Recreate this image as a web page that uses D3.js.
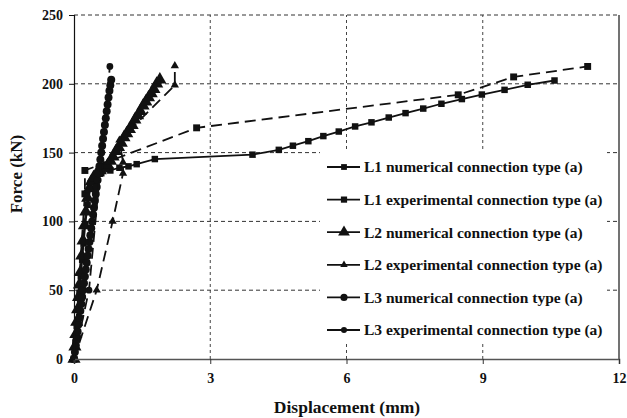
<!DOCTYPE html>
<html><head><meta charset="utf-8">
<script src="https://cdn.jsdelivr.net/npm/d3@7"></script>
<style>
body{margin:0;background:#fff;}
svg{display:block;}
text{font-family:"Liberation Serif","Times New Roman",serif;font-weight:bold;fill:#111;}
</style></head>
<body><svg id="c" width="627" height="418"></svg>
<script>
// ---- data ----
const xTicks = [0, 3, 6, 9, 12];
const yTicks = [0, 50, 100, 150, 200, 250];

const l1NumX = [0,0.03,0.06,0.09,0.12,0.15,0.18,0.21,0.25,0.3,0.36,0.45,0.6,0.8,1.0,1.2,1.38,1.78,3.93,4.51,4.82,5.16,5.49,5.83,6.19,6.55,6.93,7.30,7.69,8.09,8.54,8.98,9.48,9.99,10.58];
const l1NumY = [0,12,24,36,48,60,72,84,98,112,124,131,135,137,139,140,141.6,145.3,148.5,152,155,158.3,162,165.3,169,172,175.5,178.7,182,185.5,188.9,192.2,195.6,199.3,202.4];

const l1ExpX = [0,0.24,0.24,2.7,8.46,9.68,11.31];
const l1ExpY = [0,120,137,168,192,205,212.6];

const l2NumX = [0,0.02,0.04,0.06,0.08,0.1,0.12,0.14,0.17,0.2,0.23,0.26,0.3,0.34,0.38,0.43,0.5,0.58,0.66,0.74,0.8,0.86,0.92,0.98,1.04,1.1,1.16,1.22,1.28,1.34,1.4,1.46,1.52,1.58,1.64,1.7,1.76,1.82,1.89];
const l2NumY = [0,9,18,27,36,45,54,63,75,86,97,107,117,124,129,132,135,137,139,141,144,147,151,154,157,161,164,167,170,174,177,180,184,187,190,193,196,200,203];

const l2ExpX = [0,0.5,0.85,1.08,1.08,1.0,2.22,2.22];
const l2ExpY = [0,50,100,135,143,159,199,213];

const l3NumX = [0,0.02,0.04,0.06,0.08,0.1,0.12,0.14,0.16,0.18,0.2,0.22,0.24,0.26,0.28,0.3,0.32,0.34,0.36,0.38,0.4,0.42,0.44,0.46,0.48,0.5,0.52,0.54,0.56,0.58,0.6,0.62,0.64,0.66,0.68,0.7,0.72,0.74,0.76,0.78,0.8,0.82];
const l3NumY = [0,5,10,15,20,25,30,35,40,45,50,55,60,65,70,75,80,85,90,95,100,105,110,115,120,125,130,135,140,145,150,155,160,165,170,175,180,185,190,195,199,203];

const l3ExpX = [0,0.33,0.79];
const l3ExpY = [0,50,212.6];

const seriesNames = ["L1 numerical connection type (a)","L1 experimental connection type (a)","L2 numerical connection type (a)","L2 experimental connection type (a)","L3 numerical connection type (a)","L3 experimental connection type (a)"];

// ---- chart ----
const svg = d3.select("#c");
const x = d3.scaleLinear().domain([0,12]).range([74,619]);
const y = d3.scaleLinear().domain([0,250]).range([359,15]);

// grid
svg.append("g").selectAll("line").data(yTicks.filter(d=>d>0)).join("line")
  .attr("x1",x(0)).attr("x2",x(12)).attr("y1",d=>y(d)).attr("y2",d=>y(d))
  .attr("stroke","#333").attr("stroke-width",1).attr("stroke-dasharray","4,3");
svg.append("g").selectAll("line").data(xTicks.filter(d=>d>0&&d<12)).join("line")
  .attr("x1",d=>x(d)).attr("x2",d=>x(d)).attr("y1",y(0)).attr("y2",y(250))
  .attr("stroke","#444").attr("stroke-width",1).attr("stroke-dasharray","3,3");
// right border
svg.append("line").attr("x1",x(12)).attr("x2",x(12)).attr("y1",y(0)).attr("y2",y(250))
  .attr("stroke","#444").attr("stroke-width",1.5);

const shape = {square:d3.symbolSquare, triangle:d3.symbolTriangle, circle:d3.symbolCircle};
const series = [
  {xs:l1NumX, ys:l1NumY, dash:null, sym:"square", size:42},
  {xs:l1ExpX, ys:l1ExpY, dash:"11,6", sym:"square", size:48},
  {xs:l2NumX, ys:l2NumY, dash:null, sym:"triangle", size:75},
  {xs:l2ExpX, ys:l2ExpY, dash:"11,6", sym:"triangle", size:30},
  {xs:l3NumX, ys:l3NumY, dash:null, sym:"circle", size:50},
  {xs:l3ExpX, ys:l3ExpY, dash:"11,6", sym:"circle", size:36}
];
const line = d3.line().x(d=>x(d[0])).y(d=>y(d[1]));
series.forEach(s=>{
  const pts = s.xs.map((v,i)=>[v,s.ys[i]]);
  const g = svg.append("g");
  g.append("path").datum(pts).attr("d",line).attr("fill","none")
    .attr("stroke","#111").attr("stroke-width",1.8)
    .attr("stroke-dasharray",s.dash);
  g.selectAll("path.m").data(pts).join("path").attr("class","m")
    .attr("transform",d=>`translate(${x(d[0])},${y(d[1])})`)
    .attr("d",d3.symbol().type(shape[s.sym]).size(s.size))
    .attr("fill","#111");
});

// axes
const ax = svg.append("g").attr("transform",`translate(0,${y(0)})`)
  .call(d3.axisBottom(x).tickValues(xTicks).tickSize(5).tickPadding(9).tickFormat(d3.format("d")));
ax.select(".domain").attr("stroke","#555").attr("stroke-width",1.6);
ax.selectAll(".tick line").attr("stroke","#333");
ax.selectAll("text").attr("font-size",14);
const ay = svg.append("g").attr("transform",`translate(${x(0)},0)`)
  .call(d3.axisLeft(y).tickValues(yTicks).tickSize(5).tickPadding(6).tickFormat(d3.format("d")));
ay.select(".domain").attr("stroke","#111").attr("stroke-width",1.2);
ay.selectAll(".tick line").attr("stroke","#111");
ay.selectAll("text").attr("font-size",14);
svg.selectAll(".tick text").attr("font-family","Liberation Serif").attr("font-weight","bold").attr("fill","#111");

// axis titles
svg.append("text").attr("x",347).attr("y",413).attr("text-anchor","middle")
  .attr("font-size",17.5).text("Displacement (mm)");
svg.append("text").attr("transform","translate(22,174) rotate(-90)").attr("text-anchor","middle")
  .attr("font-size",17).text("Force (kN)");

// legend
svg.append("rect").attr("x",320).attr("y",151).attr("width",287).attr("height",193).attr("fill","#fff");
const lg = svg.append("g").selectAll("g").data(seriesNames).join("g")
  .attr("transform",(d,i)=>`translate(0,${167+i*32.6})`);
lg.append("line").attr("x1",327).attr("x2",360).attr("y1",0).attr("y2",0)
  .attr("stroke","#111").attr("stroke-width",1.8);
lg.append("path").attr("transform","translate(344,0)")
  .attr("d",(d,i)=>d3.symbol().type(shape[series[i].sym]).size(series[i].size*0.8)())
  .attr("fill","#111");
lg.append("text").attr("x",364).attr("y",0).attr("dy","0.35em").attr("font-size",15.5).text(d=>d);
</script></body></html>
